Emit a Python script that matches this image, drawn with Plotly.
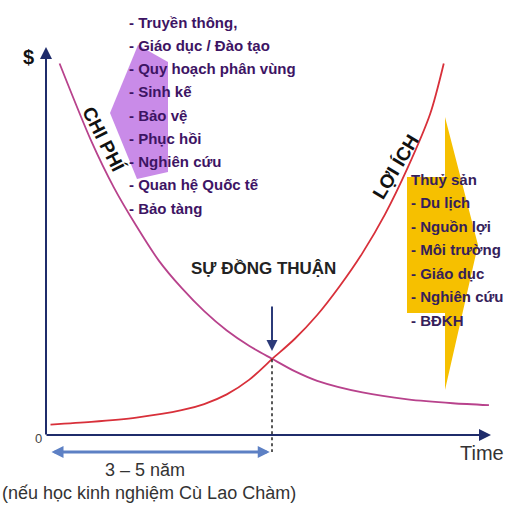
import plotly.graph_objects as go

# ---- data -------------------------------------------------------------
# Cost curve (CHI PHÍ): falls quickly, then levels off
years_cost = [0.3, 1, 1.5, 2, 2.5, 3, 3.5, 4, 4.5, 5, 5.5, 6, 7, 8, 9, 9.8]
cost = [96, 76, 64, 54, 45, 38, 32, 27, 23, 19.7, 16.5, 14, 11, 9.2, 8.2, 7.7]

# Benefit curve (LỢI ÍCH): slow start, then grows sharply
years_benefit = [0.1, 1, 2, 3, 3.5, 4, 4.5, 5, 5.5, 6, 6.5, 7, 7.5, 8, 8.5, 8.8]
benefit = [2.7, 3.4, 4.5, 6.4, 8.0, 10.5, 14.3, 19.6, 24.8, 31, 38.5, 47, 57, 69, 83, 96]

consensus_year = 5
consensus_value = 19.6

cost_items = ["- Truyền thông,", "- Giáo dục / Đào tạo", "- Quy hoạch phân vùng",
              "- Sinh kế", "- Bảo vệ", "- Phục hồi", "- Nghiên cứu",
              "- Quan hệ Quốc tế", "- Bảo tàng"]
benefit_items = ["Thuỷ sản", "- Du lịch", "- Nguồn lợi", "- Môi trường",
                 "- Giáo dục", "- Nghiên cứu", "- BĐKH"]

# ---- canvas geometry: canvas pixel -> axis units -------------------------
W, H = 525, 518
X0, PX_T = 46, 45.2     # origin column, pixels per year
Y0, PX_V = 435, 3.87    # origin row, pixels per value unit


def tx(x):
    return (x - X0) / PX_T


def vy(y):
    return (Y0 - y) / PX_V


FONT = "Liberation Sans, Arial, sans-serif"
AXIS = "#1f2c6b"

fig = go.Figure()

# decorative arrows behind the lists
purple = [(110, 113), (138, 45), (168, 62), (168, 172), (137, 179)]
path = "M " + " L ".join(f"{tx(x)},{vy(y)}" for x, y in purple) + " Z"
fig.add_shape(type="path", path=path, fillcolor="#c98be8", line_width=0, layer="below")

gold = [(407, 177), (445, 177), (445, 117), (478, 245), (445, 390), (445, 313), (407, 313)]
path = "M " + " L ".join(f"{tx(x)},{vy(y)}" for x, y in gold) + " Z"
fig.add_shape(type="path", path=path, fillcolor="#f6c000", line_width=0, layer="below")

# curves
fig.add_trace(go.Scatter(x=years_cost, y=cost, mode="lines",
                         line=dict(color="#b8428c", width=1.8, shape="spline", smoothing=0.8),
                         hoverinfo="skip", showlegend=False))
fig.add_trace(go.Scatter(x=years_benefit, y=benefit, mode="lines",
                         line=dict(color="#d8303a", width=1.8, shape="spline", smoothing=0.8),
                         hoverinfo="skip", showlegend=False))

# dotted drop line from the crossing point
fig.add_shape(type="line", x0=consensus_year, x1=consensus_year, y0=consensus_value, y1=vy(452),
              line=dict(color="#222222", width=1.5, dash="dot"))


def arrow(x_head, y_head, x_tail, y_tail, color, width, side="end", size=1.0, head=2):
    fig.add_annotation(x=x_head, y=y_head, ax=x_tail, ay=y_tail, xref="x", yref="y",
                       axref="x", ayref="y", text="", showarrow=True, arrowhead=head,
                       arrowsize=size, arrowwidth=width, arrowcolor=color, arrowside=side,
                       startarrowhead=head, startarrowsize=size)


# axes
arrow(0, vy(47), 0, vy(436), AXIS, 2, size=1.2)
arrow(tx(491), 0, tx(45), 0, AXIS, 2, size=1.2)
# pointer to the consensus point
arrow(consensus_year, vy(351), consensus_year, vy(305), "#2b3a78", 2, size=1.1)
# period span
arrow(consensus_year - 0.05, vy(452), tx(50), vy(452), "#5d80c4", 3, side="end+start", size=0.8)


def label(x, y, text, size, color="#222222", bold=False, anchor="left", angle=0, font=FONT):
    fig.add_annotation(x=x, y=y, xref="x", yref="y", text=f"<b>{text}</b>" if bold else text,
                       showarrow=False, xanchor=anchor, yanchor="middle", textangle=angle,
                       font=dict(family=font, size=size, color=color))


for i, item in enumerate(cost_items):
    label(tx(127), vy(22 + 23.25 * i), item, 15, color="#3d1464", bold=True)
for i, item in enumerate(benefit_items):
    label(tx(409), vy(179 + 23.5 * i), item, 15, color="#35205a", bold=True)

label(tx(28), vy(57), "$", 20, color="#111111", bold=True, anchor="center")
label(tx(38), vy(438), "0", 13, color="#444444", anchor="center")
label(tx(482), vy(453), "Time", 20, color="#333333", anchor="center")
label(tx(263), vy(268), "SỰ ĐỒNG THUẬN", 17, color="#222222", bold=True, anchor="center")
label(tx(104), vy(139), "CHI PHÍ", 19, color="#111111", bold=True, anchor="center", angle=63)
label(tx(395), vy(167), "LỢI ÍCH", 19, color="#111111", bold=True, anchor="center", angle=-59)
label(tx(145), vy(470), "3 – 5 năm", 18, color="#333333", anchor="center")
label(tx(149), vy(493), "(nếu học kinh nghiệm Cù Lao Chàm)", 18, color="#333333", anchor="center")

fig.update_layout(
    width=W, height=H,
    margin=dict(l=0, r=0, t=0, b=0),
    paper_bgcolor="white", plot_bgcolor="white",
    xaxis=dict(range=[tx(0), tx(W)], visible=False, fixedrange=True),
    yaxis=dict(range=[vy(H), vy(0)], visible=False, fixedrange=True),
    showlegend=False,
)

fig.write_html("out.html")
